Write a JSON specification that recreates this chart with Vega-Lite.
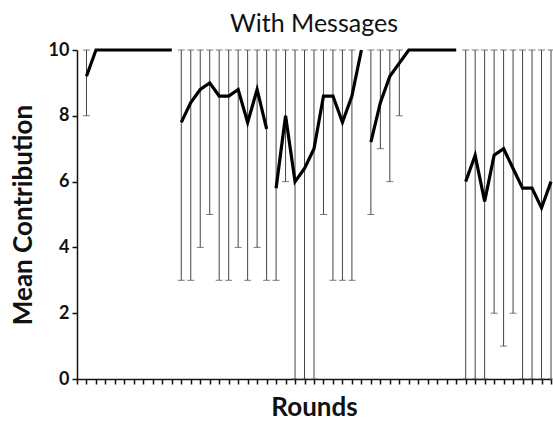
{
  "$schema": "https://vega.github.io/schema/vega-lite/v6.json",
  "width": 474,
  "height": 329,
  "autosize": "none",
  "padding": {"left": 77, "top": 50, "right": 2, "bottom": 42},
  "background": "white",
  "title": {"text": "With Messages", "fontSize": 25, "fontWeight": "normal", "font": "Lato", "color": "#111", "anchor": "middle", "offset": 4},
  "config": {"view": {"stroke": null}, "font": "Lato"},
  "data": {"values": [
    {"round": 1, "seg": 1, "mean": 9.2, "lo": 8, "hi": 10},
    {"round": 2, "seg": 1, "mean": 10},
    {"round": 3, "seg": 1, "mean": 10},
    {"round": 4, "seg": 1, "mean": 10},
    {"round": 5, "seg": 1, "mean": 10},
    {"round": 6, "seg": 1, "mean": 10},
    {"round": 7, "seg": 1, "mean": 10},
    {"round": 8, "seg": 1, "mean": 10},
    {"round": 9, "seg": 1, "mean": 10},
    {"round": 10, "seg": 1, "mean": 10},
    {"round": 11, "seg": 2, "mean": 7.8, "lo": 3, "hi": 10},
    {"round": 12, "seg": 2, "mean": 8.4, "lo": 3, "hi": 10},
    {"round": 13, "seg": 2, "mean": 8.8, "lo": 4, "hi": 10},
    {"round": 14, "seg": 2, "mean": 9.0, "lo": 5, "hi": 10},
    {"round": 15, "seg": 2, "mean": 8.6, "lo": 3, "hi": 10},
    {"round": 16, "seg": 2, "mean": 8.6, "lo": 3, "hi": 10},
    {"round": 17, "seg": 2, "mean": 8.8, "lo": 4, "hi": 10},
    {"round": 18, "seg": 2, "mean": 7.8, "lo": 3, "hi": 10},
    {"round": 19, "seg": 2, "mean": 8.8, "lo": 4, "hi": 10},
    {"round": 20, "seg": 2, "mean": 7.6, "lo": 3, "hi": 10},
    {"round": 21, "seg": 3, "mean": 5.8, "lo": 3, "hi": 10},
    {"round": 22, "seg": 3, "mean": 8.0, "lo": 6, "hi": 10},
    {"round": 23, "seg": 3, "mean": 6.0, "lo": 0, "hi": 10},
    {"round": 24, "seg": 3, "mean": 6.4, "lo": 0, "hi": 10},
    {"round": 25, "seg": 3, "mean": 7.0, "lo": 0, "hi": 10},
    {"round": 26, "seg": 3, "mean": 8.6, "lo": 5, "hi": 10},
    {"round": 27, "seg": 3, "mean": 8.6, "lo": 3, "hi": 10},
    {"round": 28, "seg": 3, "mean": 7.8, "lo": 3, "hi": 10},
    {"round": 29, "seg": 3, "mean": 8.6, "lo": 3, "hi": 10},
    {"round": 30, "seg": 3, "mean": 10},
    {"round": 31, "seg": 4, "mean": 7.2, "lo": 5, "hi": 10},
    {"round": 32, "seg": 4, "mean": 8.4, "lo": 7, "hi": 10},
    {"round": 33, "seg": 4, "mean": 9.2, "lo": 6, "hi": 10},
    {"round": 34, "seg": 4, "mean": 9.6, "lo": 8, "hi": 10},
    {"round": 35, "seg": 4, "mean": 10},
    {"round": 36, "seg": 4, "mean": 10},
    {"round": 37, "seg": 4, "mean": 10},
    {"round": 38, "seg": 4, "mean": 10},
    {"round": 39, "seg": 4, "mean": 10},
    {"round": 40, "seg": 4, "mean": 10},
    {"round": 41, "seg": 5, "mean": 6.0, "lo": 0, "hi": 10},
    {"round": 42, "seg": 5, "mean": 6.8, "lo": 0, "hi": 10},
    {"round": 43, "seg": 5, "mean": 5.4, "lo": 0, "hi": 10},
    {"round": 44, "seg": 5, "mean": 6.8, "lo": 2, "hi": 10},
    {"round": 45, "seg": 5, "mean": 7.0, "lo": 1, "hi": 10},
    {"round": 46, "seg": 5, "mean": 6.4, "lo": 2, "hi": 10},
    {"round": 47, "seg": 5, "mean": 5.8, "lo": 0, "hi": 10},
    {"round": 48, "seg": 5, "mean": 5.8, "lo": 0, "hi": 10},
    {"round": 49, "seg": 5, "mean": 5.2, "lo": 0, "hi": 10},
    {"round": 50, "seg": 5, "mean": 6.0, "lo": 0, "hi": 10}
  ]},
  "encoding": {
    "x": {
      "field": "round", "type": "quantitative",
      "scale": {"domain": [0, 50], "nice": false, "zero": false},
      "axis": {
        "title": "Rounds", "titleFontSize": 26, "titleFontWeight": "bold", "titleColor": "#111", "titlePadding": 10,
        "labels": false, "grid": false,
        "values": [0,1,2,3,4,5,6,7,8,9,10,11,12,13,14,15,16,17,18,19,20,21,22,23,24,25,26,27,28,29,30,31,32,33,34,35,36,37,38,39,40,41,42,43,44,45,46,47,48,49,50],
        "tickSize": 5, "tickWidth": 1.5, "tickColor": "#111",
        "domainColor": "#111", "domainWidth": 1.5
      }
    }
  },
  "layer": [
    {
      "mark": {"type": "rule", "color": "#444", "strokeWidth": 1},
      "encoding": {
        "y": {"field": "lo", "type": "quantitative"},
        "y2": {"field": "hi"}
      }
    },
    {
      "mark": {"type": "tick", "orient": "horizontal", "color": "#444", "size": 7, "thickness": 1},
      "encoding": {"y": {"field": "lo", "type": "quantitative"}}
    },
    {
      "mark": {"type": "tick", "orient": "horizontal", "color": "#444", "size": 7, "thickness": 1},
      "encoding": {"y": {"field": "hi", "type": "quantitative"}}
    },
    {
      "mark": {"type": "line", "color": "#000", "strokeWidth": 3.2, "strokeJoin": "miter"},
      "encoding": {
        "y": {
          "field": "mean", "type": "quantitative",
          "scale": {"domain": [0, 10], "nice": false},
          "axis": {
            "title": "Mean Contribution", "titleFontSize": 26, "titleFontWeight": "bold", "titleColor": "#111", "titlePadding": 12,
            "values": [0, 2, 4, 6, 8, 10], "grid": false,
            "labelFontSize": 18, "labelFontWeight": "bold", "labelColor": "#111", "labelPadding": 3,
            "tickSize": 5, "tickWidth": 1.5, "tickColor": "#111",
            "domainColor": "#111", "domainWidth": 1.5
          }
        },
        "detail": {"field": "seg"}
      }
    }
  ]
}
